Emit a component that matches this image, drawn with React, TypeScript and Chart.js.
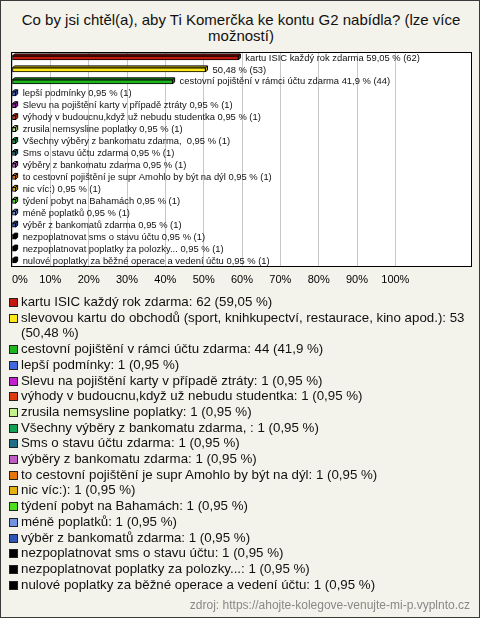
import React, { useEffect, useRef } from "react";
import { Chart, registerables } from "chart.js";

Chart.register(...registerables);

const TITLE = "Co by jsi chtěl(a), aby Ti Komerčka ke kontu G2 nabídla? (lze více možností)";
const SOURCE = "zdroj: https://ahojte-kolegove-venujte-mi-p.vyplnto.cz";

const categories = [
  "kartu ISIC každý rok zdarma",
  "slevovou kartu do obchodů (sport, knihkupectví, restaurace, kino apod.)",
  "cestovní pojištění v rámci účtu zdarma",
  "lepší podmínky",
  "Slevu na pojištění karty v případě ztráty",
  "výhody v budoucnu,když už nebudu studentka",
  "zrusila nemsysline poplatky",
  "Všechny výběry z bankomatu zdarma, ",
  "Sms o stavu účtu zdarma",
  "výběry z bankomatu zdarma",
  "to cestovní pojištění je supr Amohlo by být na dýl",
  "nic víc:)",
  "týdení pobyt na Bahamách",
  "méně poplatků",
  "výběr z bankomatů zdarma",
  "nezpoplatnovat sms o stavu účtu",
  "nezpoplatnovat poplatky za polozky...",
  "nulové poplatky za běžné operace a vedení účtu",
];

const counts = [62, 53, 44, 1, 1, 1, 1, 1, 1, 1, 1, 1, 1, 1, 1, 1, 1, 1];
const percents = [59.05, 50.48, 41.9, 0.95, 0.95, 0.95, 0.95, 0.95, 0.95, 0.95, 0.95, 0.95, 0.95, 0.95, 0.95, 0.95, 0.95, 0.95];
const nameOnBar = [true, false, true, true, true, true, true, true, true, true, true, true, true, true, true, true, true, true];

const colors = [
  "#c3190f", "#ffe81a", "#1cb51c", "#3f68e0", "#c21fd0", "#de3a10",
  "#c4f28a", "#12a055", "#1f6f86", "#c05ac4", "#e5760e", "#e2b20e",
  "#4ee01c", "#7094e0", "#2f55b6", "#000000", "#000000", "#000000",
];

const xTickValues = [0, 10, 20, 30, 40, 50, 60, 70, 80, 90, 100];
const X_MAX = 120;

const fmt = (v: number) => String(v).replace(".", ",");

function darker(hex: string, f: number) {
  const n = parseInt(hex.slice(1), 16);
  const r = Math.round(((n >> 16) & 255) * f);
  const g = Math.round(((n >> 8) & 255) * f);
  const b = Math.round((n & 255) * f);
  return `rgb(${r},${g},${b})`;
}

const DEPTH = 2;

const frame = {
  id: "frame",
  beforeDraw(chart: any) {
    const { ctx, chartArea: a } = chart;
    ctx.save();
    ctx.fillStyle = "#ffffff";
    ctx.fillRect(a.left, a.top, a.right - a.left, a.bottom - a.top);
    ctx.restore();
  },
  afterDraw(chart: any) {
    const { ctx, chartArea: a } = chart;
    ctx.save();
    ctx.strokeStyle = "#000";
    ctx.lineWidth = 1;
    ctx.strokeRect(Math.round(a.left) - 0.5, Math.round(a.top) + 0.5, Math.round(a.right - a.left), Math.round(a.bottom - a.top) - 1);
    ctx.restore();
  },
};

const bar3d = {
  id: "bar3d",
  beforeDatasetsDraw(chart: any) {
    const ctx = chart.ctx;
    const meta = chart.getDatasetMeta(0);
    meta.data.forEach((el: any, i: number) => {
      const { x, y, base, height } = el.getProps(["x", "y", "base", "height"], true);
      const top = y - height / 2;
      const bottom = y + height / 2;
      ctx.save();
      ctx.fillStyle = darker(colors[i], 0.8);
      ctx.strokeStyle = "#000";
      ctx.lineWidth = 1;
      ctx.beginPath();
      ctx.moveTo(base, top);
      ctx.lineTo(base + DEPTH, top - DEPTH);
      ctx.lineTo(x + DEPTH, top - DEPTH);
      ctx.lineTo(x + DEPTH, bottom - DEPTH);
      ctx.lineTo(x, bottom);
      ctx.lineTo(x, top);
      ctx.closePath();
      ctx.fill();
      ctx.stroke();
      ctx.beginPath();
      ctx.moveTo(x, top);
      ctx.lineTo(x + DEPTH, top - DEPTH);
      ctx.stroke();
      ctx.restore();
    });
  },
  afterDatasetsDraw(chart: any) {
    const ctx = chart.ctx;
    const meta = chart.getDatasetMeta(0);
    ctx.save();
    ctx.font = '9.4px "Liberation Sans", Arial, sans-serif';
    ctx.fillStyle = "#111";
    ctx.textBaseline = "middle";
    ctx.textAlign = "left";
    meta.data.forEach((el: any, i: number) => {
      const { x, y } = el.getProps(["x", "y"], true);
      const txt = (nameOnBar[i] ? categories[i] + " " : "") + `${fmt(percents[i])} % (${counts[i]})`;
      ctx.fillText(txt, x + DEPTH + 5, y);
    });
    ctx.restore();
  },
};

function ChartBox() {
  const ref = useRef<HTMLCanvasElement | null>(null);
  useEffect(() => {
    if (!ref.current) return;
    const chart = new Chart(ref.current, {
      type: "bar",
      data: {
        labels: categories,
        datasets: [
          {
            data: percents,
            backgroundColor: colors,
            borderColor: "#000",
            borderWidth: 1,
            borderSkipped: false,
            barThickness: 4,
          },
        ],
      },
      options: {
        indexAxis: "y",
        animation: false,
        responsive: true,
        maintainAspectRatio: false,
        layout: { padding: { left: 11, right: 9, top: 11, bottom: 0 } },
        plugins: { legend: { display: false }, tooltip: { enabled: false }, title: { display: false } },
        scales: {
          x: {
            min: 0,
            max: X_MAX,
            afterBuildTicks: (scale: any) => {
              scale.ticks = [...xTickValues, X_MAX].map((v) => ({ value: v }));
            },
            afterFit: (scale: any) => {
              scale.height = 34;
              scale.paddingLeft = 0;
              scale.paddingRight = 0;
            },
            border: { display: false },
            grid: {
              drawTicks: false,
              color: (c: any) => (c.tick && c.tick.value <= 100 ? "#c8c8c8" : "rgba(0,0,0,0)"),
            },
            ticks: {
              padding: 6,
              align: "inner",
              maxRotation: 0,
              autoSkip: false,
              color: "#000",
              font: { family: '"Liberation Sans", Arial, sans-serif', size: 11 },
              callback: (v: any) => (Number(v) <= 100 ? `${v}%` : ""),
            },
          },
          y: {
            display: false,
            grid: { display: false },
          },
        },
      },
      plugins: [frame, bar3d],
    } as any);
    return () => chart.destroy();
  }, []);
  return (
    <div style={{ position: "absolute", left: 0, top: 40, width: 480, height: 260 }}>
      <canvas ref={ref} />
    </div>
  );
}

export default function App() {
  return (
    <div
      style={{
        position: "absolute",
        left: 0,
        top: 0,
        width: 480,
        height: 618,
        boxSizing: "border-box",
        border: "1px solid #3a3a3a",
        background: "#f4f3eb",
        fontFamily: '"Liberation Sans", Arial, sans-serif',
        overflow: "hidden",
      }}
    >
      <div
        style={{
          position: "absolute",
          top: 11,
          left: 15,
          width: 450,
          textAlign: "center",
          fontSize: 15,
          lineHeight: "16px",
          color: "#111",
        }}
      >
        {TITLE}
      </div>
      <ChartBox />
      <div style={{ position: "absolute", top: 293, left: 8, width: 462 }}>
        {categories.map((c, i) => (
          <div key={i} style={{ display: "flex", alignItems: "flex-start", fontSize: 13.3, lineHeight: "15.7px", color: "#111" }}>
            <span
              style={{
                flex: "0 0 auto",
                display: "inline-block",
                width: 7,
                height: 7,
                border: "1px solid #222",
                background: colors[i],
                marginTop: 4,
                marginRight: 3,
              }}
            />
            <span>{`${c}: ${counts[i]} (${fmt(percents[i])} %)`}</span>
          </div>
        ))}
      </div>
      <div style={{ position: "absolute", right: 9, top: 597, fontSize: 12, color: "#888" }}>{SOURCE}</div>
    </div>
  );
}
